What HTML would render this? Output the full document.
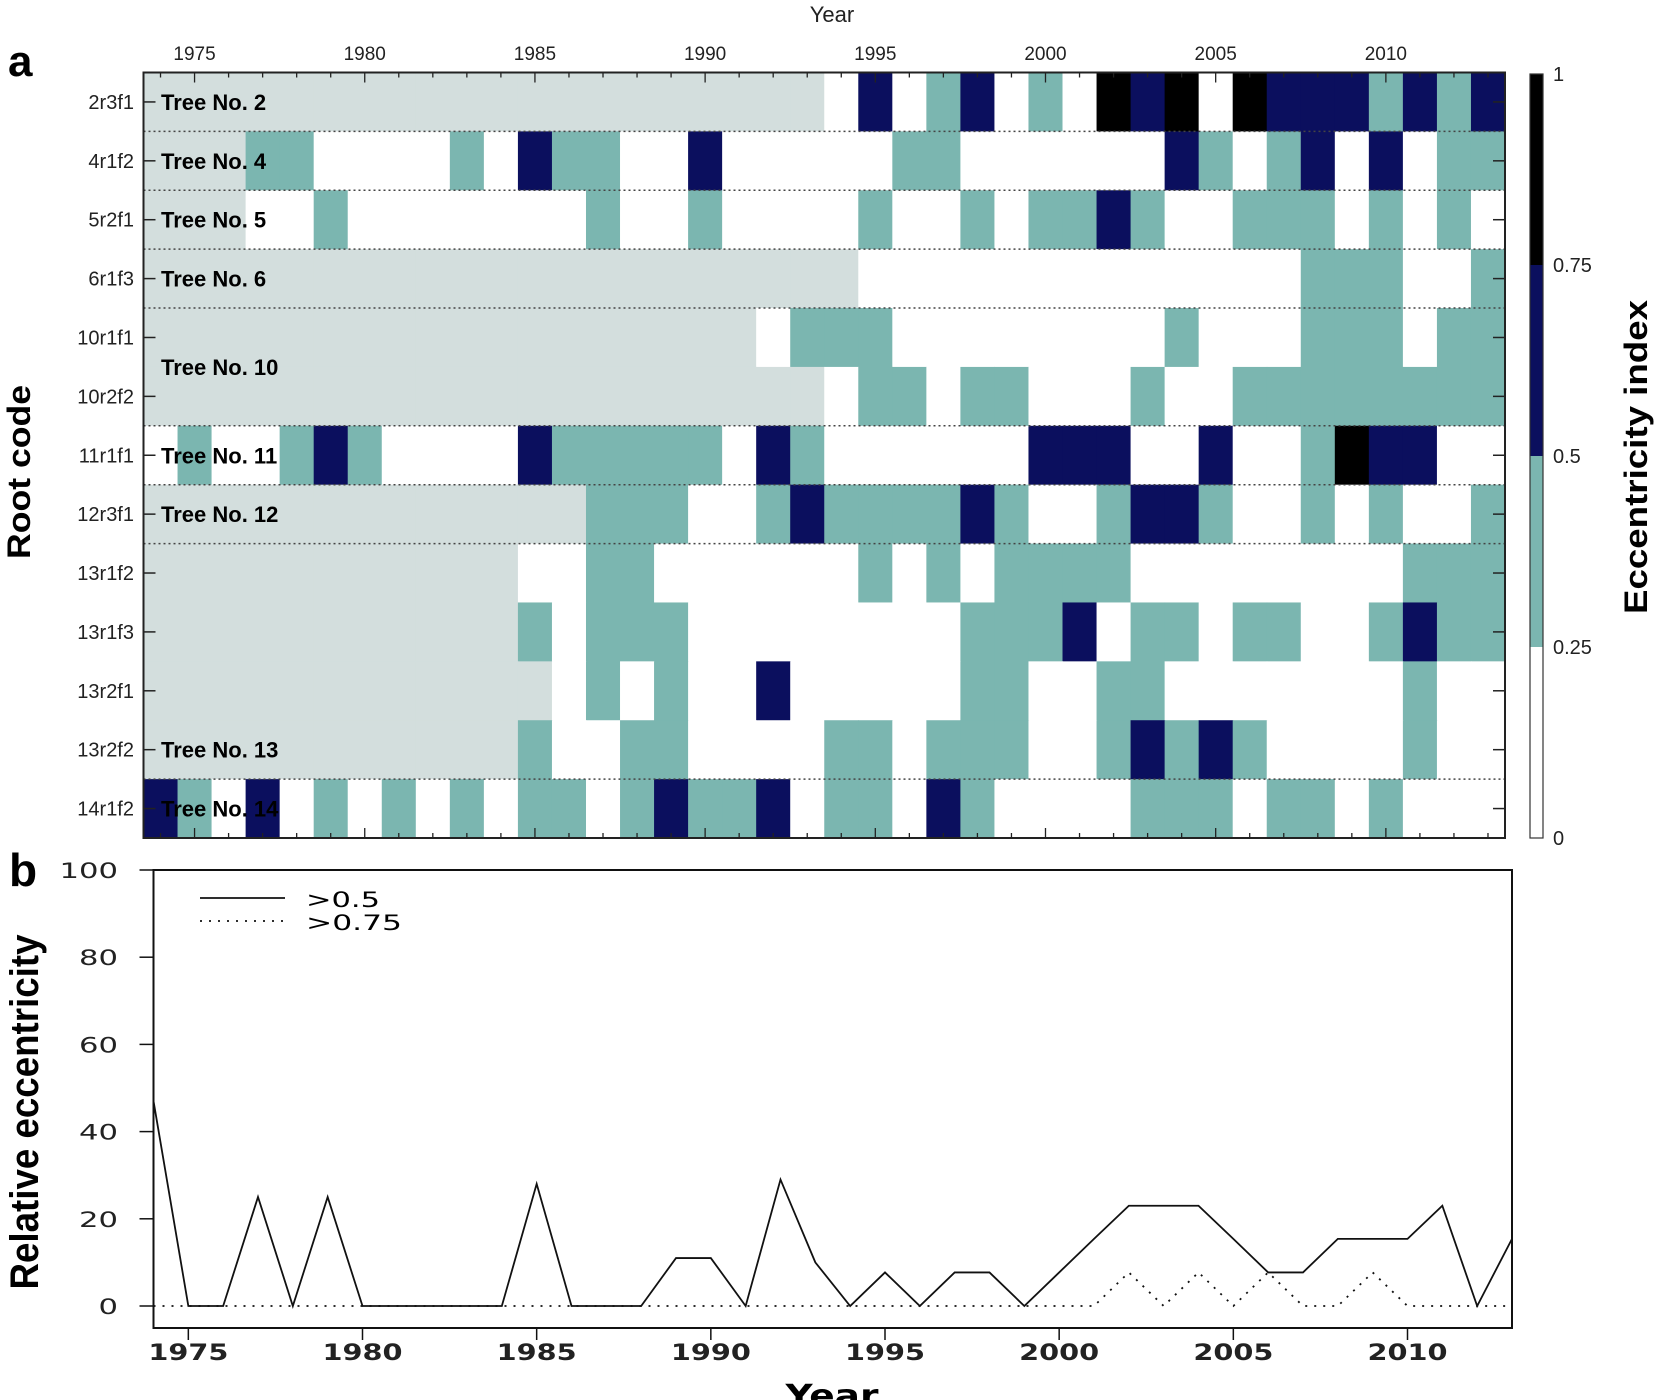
<!DOCTYPE html>
<html><head><meta charset="utf-8"><style>
html,body{margin:0;padding:0;background:#fff;}
svg{display:block;font-family:"Liberation Sans",Arial,sans-serif;}
</style></head><body>
<svg id="fig" width="1654" height="1400" viewBox="0 0 1654 1400" xmlns="http://www.w3.org/2000/svg">
<g id="panelA"></g>
<g id="panelB"></g>
</svg>
<script>
// ---------- Panel a data ----------
const years = [];
for (let y = 1974; y <= 2013; y++) years.push(y);
const rowCodes = ["2r3f1","4r1f2","5r2f1","6r1f3","10r1f1","10r2f2","11r1f1","12r3f1","13r1f2","13r1f3","13r2f1","13r2f2","14r1f2"];
// g=no data, w=<0.25, t=0.25-0.5, n=0.5-0.75, k=>0.75
const row0  = "ggggggggggggggggggggwnwtnwtwknkwknnntntn";
const row1  = "gggttwwwwtwnttwwnwwwwwttwwwwwwntwtnwnwtt";
const row2  = "gggwwtwwwwwwwtwwtwwwwtwwtwttntwwtttwtwtw";
const row3  = "gggggggggggggggggggggwwwwwwwwwwwwwtttwwt";
const row4  = "ggggggggggggggggggwtttwwwwwwwwtwwwtttwtt";
const row5  = "ggggggggggggggggggggwttwttwwwtwwtttttttt";
const row6  = "wtwwtntwwwwntttttwntwwwwwwnnnwwnwwtknnww";
const row7  = "gggggggggggggtttwwtnttttntwwtnntwwtwtwwt";
const row8  = "gggggggggggwwttwwwwwwtwtwttttwwwwwwwwttt";
const row9  = "gggggggggggtwtttwwwwwwwwtttnwttwttwwtntt";
const row10 = "ggggggggggggwtwtwwnwwwwwttwwttwwwwwwwtww";
const row11 = "gggggggggggtwwttwwwwttwtttwwtntntwwwwtww";
const row12 = "ntwnwtwtwtwttwtnttnwttwntwwwwtttwttwtwww";
const grid = [row0,row1,row2,row3,row4,row5,row6,row7,row8,row9,row10,row11,row12];
const treeLabels = [["Tree No. 2",0],["Tree No. 4",1],["Tree No. 5",2],["Tree No. 6",3],["Tree No. 10",4.5],["Tree No. 11",6],["Tree No. 12",7],["Tree No. 13",11],["Tree No. 14",12]];
const separators = [1,2,3,4,6,7,8,12];
const cbTicks = ["0","0.25","0.5","0.75","1"];

// ---------- Panel b data ----------
const pct05  = [47,0,0,25,0,25,0,0,0,0,0,28,0,0,0,11,11,0,29,10,0,7.7,0,7.7,7.7,0,7.7,15.4,23,23,23,15.4,7.7,7.7,15.4,15.4,15.4,23,0,15.4];
const pct075 = [0,0,0,0,0,0,0,0,0,0,0,0,0,0,0,0,0,0,0,0,0,0,0,0,0,0,0,0,7.7,0,7.7,0,7.7,0,0,7.7,0,0,0,0];
const yTicks = [0,20,40,60,80,100];
const xTickYears = [1975,1980,1985,1990,1995,2000,2005,2010];

const NS = "http://www.w3.org/2000/svg";
function mk(parent, tag, attrs, text) {
  const e = document.createElementNS(NS, tag);
  for (const k in attrs) e.setAttribute(k, attrs[k]);
  if (text !== undefined) e.textContent = text;
  parent.appendChild(e);
  return e;
}
const colors = {g:"#d3dedd", w:"#ffffff", t:"#7bb6b0", n:"#0b0f5e", k:"#000000"};

// ---------- Panel a ----------
const A = document.getElementById("panelA");
const hx0 = 143.5, hx1 = 1505, hy0 = 72.5, hy1 = 838;
const cw = (hx1 - hx0) / years.length, rh = (hy1 - hy0) / rowCodes.length;
const xA = i => hx0 + i * cw;
const yA = r => hy0 + r * rh;

let t;
t = mk(A, "text", {x: 8, y: 76, "font-size": 44, "font-weight": "bold"}, "a");


t = mk(A, "text", {x: 832, y: 22, "font-size": 22, "text-anchor": "middle", fill: "#222"}, "Year");



grid.forEach((row, r) => {
  for (let i = 0; i < years.length; i++) {
    const c = row[i];
    const rc = mk(A, "rect", {x: xA(i), y: yA(r), width: cw + 0.6, height: rh + 0.6, fill: colors[c]});
    
    
  }
});
separators.forEach(s => {
  const l = mk(A, "line", {x1: hx0, x2: hx1, y1: yA(s), y2: yA(s), stroke: "#444", "stroke-width": 1.5, "stroke-dasharray": "2,3"});
  
  
});
years.forEach((yr, i) => {
  const cx = xA(i + 0.5);
  const len = yr % 5 === 0 ? 10 : 5;
  mk(A, "line", {x1: cx, x2: cx, y1: hy0, y2: hy0 + len, stroke: "#222", "stroke-width": 1.3});
  mk(A, "line", {x1: cx, x2: cx, y1: hy1, y2: hy1 - len, stroke: "#222", "stroke-width": 1.3});
  if (yr % 5 === 0) {
    const tl = mk(A, "text", {x: cx, y: 60, "font-size": 19, "text-anchor": "middle", fill: "#222"}, String(yr));
    
    
  }
});
rowCodes.forEach((code, r) => {
  const cy = yA(r + 0.5);
  mk(A, "line", {x1: hx0, x2: hx0 + 12, y1: cy, y2: cy, stroke: "#222", "stroke-width": 1.5});
  mk(A, "line", {x1: hx1, x2: hx1 - 12, y1: cy, y2: cy, stroke: "#222", "stroke-width": 1.5});
  const rl = mk(A, "text", {x: 134, y: cy + 7, "font-size": 20, "text-anchor": "end", fill: "#222"}, code);
  
  
});
treeLabels.forEach(([lab, r]) => {
  const tl = mk(A, "text", {x: 161, y: yA(r + 0.5) + 8, "font-size": 22, "font-weight": "bold", fill: "#000"}, lab);
  
  
});
const fr = mk(A, "rect", {x: hx0, y: hy0, width: hx1 - hx0, height: hy1 - hy0, fill: "none", stroke: "#222", "stroke-width": 2});


t = mk(A, "text", {transform: "translate(30,472) rotate(-90)", "font-size": 32, "font-weight": "bold", "text-anchor": "middle", textLength: 174, lengthAdjust: "spacingAndGlyphs"}, "Root code");



// colorbar
const cbx = 1530, cbw = 13, cby0 = 74, cby1 = 838;
const cbY = v => cby1 - v * (cby1 - cby0);
[["w",0,0.25],["t",0.25,0.5],["n",0.5,0.75],["k",0.75,1]].forEach(([c,a,b]) => {
  const r = mk(A, "rect", {x: cbx, y: cbY(b), width: cbw, height: cbY(a) - cbY(b), fill: colors[c]});
  
  
});
mk(A, "rect", {x: cbx, y: cby0, width: cbw, height: cby1 - cby0, fill: "none", stroke: "#333", "stroke-width": 1.2});
cbTicks.forEach(s => {
  const v = parseFloat(s);
  const l = mk(A, "text", {x: 1553, y: cbY(v) + 7, "font-size": 20, fill: "#222"}, s);
  
  
});
t = mk(A, "text", {transform: "translate(1647,457) rotate(-90)", "font-size": 32, "font-weight": "bold", "text-anchor": "middle", textLength: 314, lengthAdjust: "spacingAndGlyphs"}, "Eccentricity index");



// ---------- Panel b ----------
const B = document.getElementById("panelB");
const bx0 = 153.5, bx1 = 1512, by0 = 870, by1 = 1328;
const yB0 = 1306, yB100 = 870;
const xB = yr => bx0 + (yr - 1974) * ((bx1 - bx0) / 39);
const yB = v => yB0 - v * (yB0 - yB100) / 100;

t = mk(B, "text", {x: 9, y: 886, "font-size": 46, "font-weight": "bold"}, "b");


const bf = mk(B, "rect", {x: bx0, y: by0, width: bx1 - bx0, height: by1 - by0, fill: "none", stroke: "#111", "stroke-width": 2});


yTicks.forEach(v => {
  mk(B, "line", {x1: bx0 - 14, x2: bx0, y1: yB(v), y2: yB(v), stroke: "#111", "stroke-width": 1.5});
  const s = String(v);
  const l = mk(B, "text", {x: 118, y: yB(v) + 8, "font-size": 21, "text-anchor": "end", fill: "#222", "font-family": "DejaVu Sans, sans-serif", textLength: s.length * 19.5, lengthAdjust: "spacingAndGlyphs"}, s);
  
  
});
xTickYears.forEach(yr => {
  mk(B, "line", {x1: xB(yr), x2: xB(yr), y1: by1, y2: by1 + 12, stroke: "#111", "stroke-width": 1.5});
  const l = mk(B, "text", {x: xB(yr), y: 1360, "font-size": 22, "font-weight": "bold", "text-anchor": "middle", fill: "#222", "font-family": "DejaVu Sans, sans-serif", textLength: 80, lengthAdjust: "spacingAndGlyphs"}, String(yr));
  
  
});
t = mk(B, "text", {x: 832, y: 1406, "font-size": 30, "font-weight": "bold", "text-anchor": "middle", "font-family": "DejaVu Sans, sans-serif", textLength: 93, lengthAdjust: "spacingAndGlyphs"}, "Year");


t = mk(B, "text", {transform: "translate(38,1112) rotate(-90)", "font-size": 40, "font-weight": "bold", "text-anchor": "middle", textLength: 355, lengthAdjust: "spacingAndGlyphs"}, "Relative eccentricity");



const p05 = pct05.map((v, i) => xB(years[i]) + "," + yB(v)).join(" ");
const p075 = pct075.map((v, i) => xB(years[i]) + "," + yB(v)).join(" ");
const s1 = mk(B, "polyline", {points: p075, fill: "none", stroke: "#111", "stroke-width": 1.8, "stroke-dasharray": "2,7"});


const s0 = mk(B, "polyline", {points: p05, fill: "none", stroke: "#111", "stroke-width": 1.8});



// legend
const lg = mk(B, "g", {});


mk(lg, "line", {x1: 200, x2: 285, y1: 898, y2: 898, stroke: "#111", "stroke-width": 1.8});
mk(lg, "line", {x1: 200, x2: 285, y1: 921, y2: 921, stroke: "#111", "stroke-width": 1.8, "stroke-dasharray": "2,7"});
t = mk(lg, "text", {x: 306, y: 907, "font-size": 21, "font-family": "DejaVu Sans, sans-serif", textLength: 74, lengthAdjust: "spacingAndGlyphs"}, ">0.5");


t = mk(lg, "text", {x: 306, y: 930, "font-size": 21, "font-family": "DejaVu Sans, sans-serif", textLength: 96, lengthAdjust: "spacingAndGlyphs"}, ">0.75");


</script>
</body></html>
